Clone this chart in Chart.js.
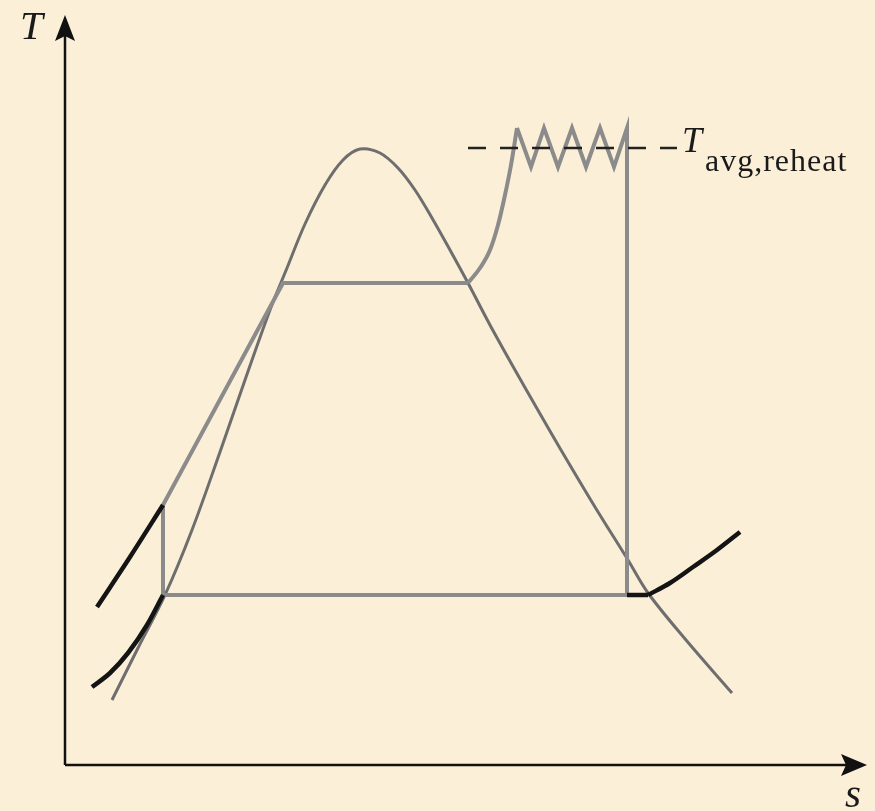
<!DOCTYPE html>
<html>
<head>
<meta charset="utf-8">
<script src="https://cdn.jsdelivr.net/npm/chart.js@4.4.1/dist/chart.umd.min.js"></script>
<style>
  html, body { margin: 0; padding: 0; background: #fbefd7; }
  #wrap { width: 875px; height: 811px; position: relative; }
</style>
</head>
<body>
<div id="wrap"><canvas id="ts"></canvas></div>
<script>
// T-s diagram: Rankine cycle with many reheat stages
// s and T in arbitrary units, origin at the corner of the axes

// saturation dome
const domeS = [0.47, 0.73, 1.00, 1.27, 1.55, 1.80, 2.05, 2.22, 2.40, 2.60, 2.78, 2.95, 3.15, 3.33, 3.50, 3.67, 3.85, 4.03, 4.25, 4.50, 4.74, 4.96, 5.30, 5.63, 5.83, 6.21, 6.67];
const domeT = [0.65, 1.17, 1.70, 2.35, 3.13, 3.85, 4.55, 4.97, 5.41, 5.80, 6.05, 6.16, 6.12, 5.97, 5.75, 5.47, 5.15, 4.82, 4.40, 3.95, 3.53, 3.15, 2.58, 2.05, 1.72, 1.25, 0.72];

// pump, liquid heating, boiling
const heatS = [0.98, 0.98, 2.18, 4.03];
const heatT = [1.70, 2.60, 4.82, 4.82];

// superheating up to the first turbine inlet
const superS = [4.03, 4.15, 4.25, 4.33, 4.40, 4.46, 4.52];
const superT = [4.82, 4.97, 5.15, 5.40, 5.70, 6.00, 6.37];

// expansion / reheat teeth, last expansion and condenser
const reheatS = [4.52, 4.66, 4.79, 4.93, 5.07, 5.21, 5.35, 5.49, 5.62, 5.62, 0.98];
const reheatT = [6.37, 5.98, 6.37, 5.98, 6.37, 5.98, 6.37, 5.98, 6.37, 1.70, 1.70];

// constant-pressure lines
const isoFlatS = [5.62, 5.83];
const isoFlatT = [1.70, 1.70];
const isoRightS = [5.83, 6.05, 6.28, 6.52, 6.75];
const isoRightT = [1.70, 1.82, 1.98, 2.15, 2.33];
const isoHighS = [0.32, 0.65, 0.98];
const isoHighT = [1.58, 2.08, 2.60];
const isoLowS = [0.27, 0.45, 0.63, 0.82, 0.98];
const isoLowT = [0.78, 0.92, 1.12, 1.40, 1.70];

// average reheat temperature
const avgS = [4.03, 6.12];
const avgT = [6.17, 6.17];

// axis extents (arrow tips)
const sMax = 8.02;
const tMax = 7.50;

const zip = (xs, ys) => xs.map((x, i) => ({ x: x, y: ys[i] }));

// curve: 'spline' | 'monotone' | 'straight'
function line(label, xs, ys, color, width, curve, extra) {
  return Object.assign({
    label: label,
    data: zip(xs, ys),
    showLine: true,
    borderColor: color,
    borderWidth: width,
    pointRadius: 0,
    pointHoverRadius: 0,
    tension: curve === 'straight' ? 0 : 0.35,
    cubicInterpolationMode: curve === 'monotone' ? 'monotone' : 'default',
    fill: false,
    borderCapStyle: 'butt',
    borderJoinStyle: 'miter'
  }, extra || {});
}

const datasets = [
  line('dome', domeS, domeT, '#6e6e6e', 3, 'spline', { order: 5 }),
  line('heat', heatS, heatT, '#8b8b8b', 4, 'straight', { order: 4 }),
  line('superheat', superS, superT, '#8b8b8b', 4, 'monotone', { order: 4 }),
  line('reheat', reheatS, reheatT, '#8b8b8b', 4, 'straight', { order: 4 }),
  line('isoFlat', isoFlatS, isoFlatT, '#141414', 4.5, 'straight', { order: 2 }),
  line('isoRight', isoRightS, isoRightT, '#141414', 4.5, 'monotone', { order: 2 }),
  line('isoHigh', isoHighS, isoHighT, '#141414', 4.5, 'monotone', { order: 2 }),
  line('isoLow', isoLowS, isoLowT, '#141414', 4.5, 'monotone', { order: 2 }),
  line('avg', avgS, avgT, '#222222', 2.5, 'straight', { order: 1, borderDash: [18, 14] })
];

// background, axes with arrowheads and labels
const decor = {
  id: 'decor',
  beforeDraw(chart) {
    const c = chart.ctx;
    c.save();
    c.fillStyle = '#fbefd7';
    c.fillRect(0, 0, chart.width, chart.height);
    c.restore();
  },
  afterDraw(chart) {
    const c = chart.ctx;
    const xs = chart.scales.x, ys = chart.scales.y;
    const x0 = xs.getPixelForValue(0), y0 = ys.getPixelForValue(0);
    const xTip = xs.getPixelForValue(sMax), yTip = ys.getPixelForValue(tMax);
    c.save();
    c.strokeStyle = '#111';
    c.fillStyle = '#111';
    c.lineWidth = 2.5;
    c.beginPath();
    c.moveTo(x0, y0);
    c.lineTo(x0, yTip + 15);
    c.moveTo(x0, y0);
    c.lineTo(xTip - 15, y0);
    c.stroke();

    // arrowheads
    c.beginPath();
    c.moveTo(x0, yTip);
    c.lineTo(x0 - 10, yTip + 26);
    c.lineTo(x0, yTip + 21);
    c.lineTo(x0 + 10, yTip + 26);
    c.closePath();
    c.fill();
    c.beginPath();
    c.moveTo(xTip, y0);
    c.lineTo(xTip - 26, y0 - 11);
    c.lineTo(xTip - 21, y0);
    c.lineTo(xTip - 26, y0 + 11);
    c.closePath();
    c.fill();

    // axis labels
    c.fillStyle = '#1a1a1a';
    c.textBaseline = 'alphabetic';
    c.font = 'italic 41px "Liberation Serif", "DejaVu Serif", serif';
    c.textAlign = 'left';
    c.fillText('T', x0 - 45, yTip + 24);
    c.fillText('s', xTip - 22, y0 + 42);

    // T_avg,reheat
    const lx = xs.getPixelForValue(avgS[1]);
    const ly = ys.getPixelForValue(avgT[1]);
    c.font = 'italic 36px "Liberation Serif", "DejaVu Serif", serif';
    c.fillText('T', lx + 5, ly + 4);
    c.font = '32px "Liberation Serif", "DejaVu Serif", serif';
    c.letterSpacing = '1px';
    c.fillText('avg,reheat', lx + 28, ly + 23);
    c.restore();
  }
};

new Chart(document.getElementById('ts').getContext('2d'), {
  type: 'scatter',
  data: { datasets: datasets },
  options: {
    animation: false,
    responsive: true,
    maintainAspectRatio: false,
    layout: { padding: 0 },
    plugins: {
      legend: { display: false },
      tooltip: { enabled: false }
    },
    scales: {
      x: { type: 'linear', min: -0.65, max: 8.10, display: false },
      y: { type: 'linear', min: -0.46, max: 7.65, display: false }
    }
  },
  plugins: [decor]
});
</script>
</body>
</html>
